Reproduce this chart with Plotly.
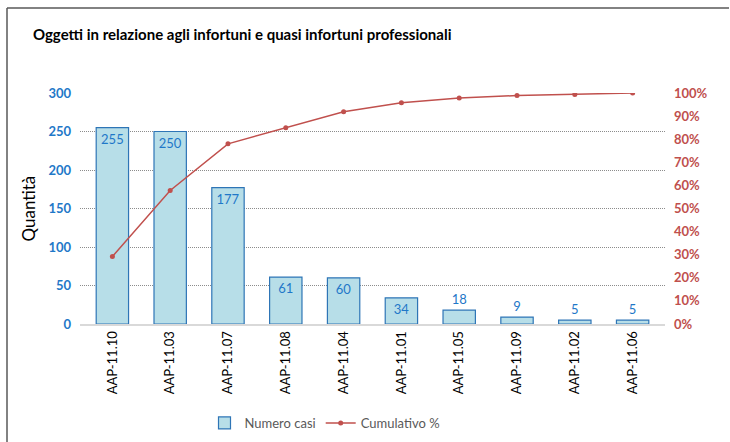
import plotly.graph_objects as go

# categories and values
codici = ["AAP-11.10", "AAP-11.03", "AAP-11.07", "AAP-11.08", "AAP-11.04",
          "AAP-11.01", "AAP-11.05", "AAP-11.09", "AAP-11.02", "AAP-11.06"]
numero_casi = [255, 250, 177, 61, 60, 34, 18, 9, 5, 5]
cumulativo = [0.292, 0.578, 0.780, 0.850, 0.919, 0.958, 0.978, 0.989, 0.994, 1.0]

qta_ticks = [0, 50, 100, 150, 200, 250, 300]
pct_ticks = [0, 0.1, 0.2, 0.3, 0.4, 0.5, 0.6, 0.7, 0.8, 0.9, 1.0]

FONT = "Lato, Noto Sans, sans-serif"
BLUE = "#2E75B6"
LABEL_BLUE = "#1F78C8"
RED = "#C0504D"

fig = go.Figure()

fig.add_trace(go.Bar(
    x=codici, y=numero_casi, name="Numero casi",
    marker=dict(color="#B7DEE8", line=dict(color=BLUE, width=1.2)),
    text=numero_casi, textposition="auto", insidetextanchor="end",
    textfont=dict(color=LABEL_BLUE, size=13, family=FONT),
    outsidetextfont=dict(color=LABEL_BLUE, size=13, family=FONT),
    cliponaxis=False,
))

fig.add_trace(go.Scatter(
    x=codici, y=cumulativo, name="Cumulativo %", yaxis="y2",
    mode="lines+markers",
    line=dict(color=RED, width=1.5),
    marker=dict(color=RED, size=5),
))

# plot area: x 80..665 px, y 93..324 px
L, R, T, B = 80, 665, 93, 324
pw, ph = R - L, B - T

# chart frame: only left and top edges are visible in the picture
frame_left = (7 - L) / pw
frame_top = (B - 8) / ph
frame_bottom = -(442 - B) / ph
frame_right = (729 - L) / pw

fig.update_layout(
    width=730, height=442,
    margin=dict(l=L, r=730 - R, t=T, b=442 - B, autoexpand=False),
    paper_bgcolor="white", plot_bgcolor="white",
    font=dict(family=FONT, color="#404040"),
    bargap=0.44,
    showlegend=True,
    legend=dict(orientation="h", x=(325 - L) / pw, xanchor="center",
                y=-(423 - B) / ph, yanchor="middle",
                font=dict(size=13, color="#595959"),
                itemwidth=30, tracegroupgap=0),
    title=dict(text="<b>Oggetti in relazione agli infortuni e quasi infortuni professionali</b>",
               x=33 / 730, xref="container", xanchor="left",
               y=1 - 35 / 442, yref="container", yanchor="middle",
               pad=dict(l=0, r=0, t=0, b=0),
               font=dict(size=15, color="black", family=FONT)),
    xaxis=dict(
        tickangle=-90, tickfont=dict(size=13, color="black"),
        showline=True, linecolor="#D9D9D9", linewidth=2,
        ticks="", showgrid=False, automargin=False,
    ),
    yaxis=dict(
        range=[0, 300], tickvals=qta_ticks,
        ticktext=[f"<b>{v}</b>" for v in qta_ticks],
        tickfont=dict(size=13, color=LABEL_BLUE, family=FONT),
        showgrid=True, gridcolor="#8C8C8C", griddash="1px,1px", gridwidth=1,
        zeroline=False, showline=False, ticks="", ticklabelstandoff=8,
        automargin=False,
    ),
    yaxis2=dict(
        range=[0, 1], tickvals=pct_ticks,
        ticktext=[f"<b>{round(v * 100)}%</b>" for v in pct_ticks],
        overlaying="y", side="right",
        tickfont=dict(size=13, color=RED, family=FONT),
        showgrid=False, zeroline=False, showline=False, ticks="",
        ticklabelstandoff=8, automargin=False,
    ),
    annotations=[dict(
        text="Quantità", textangle=-90, showarrow=False,
        xref="paper", yref="paper", x=(28 - L) / pw, y=0.5,
        xanchor="center", yanchor="middle",
        font=dict(size=17, color="black", family=FONT),
    )],
    shapes=[
        dict(type="line", xref="paper", yref="paper",
             x0=frame_left, x1=frame_left, y0=frame_bottom, y1=frame_top,
             line=dict(color="#595959", width=1.5), layer="below"),
        dict(type="line", xref="paper", yref="paper",
             x0=frame_left, x1=frame_right, y0=frame_top, y1=frame_top,
             line=dict(color="#595959", width=1.5), layer="below"),
    ],
)

fig.write_html("out.html", config={"displayModeBar": False},
               post_script="document.body.style.margin='0';"
                           "document.body.style.overflow='hidden';"
                           "document.documentElement.style.overflow='hidden';")
